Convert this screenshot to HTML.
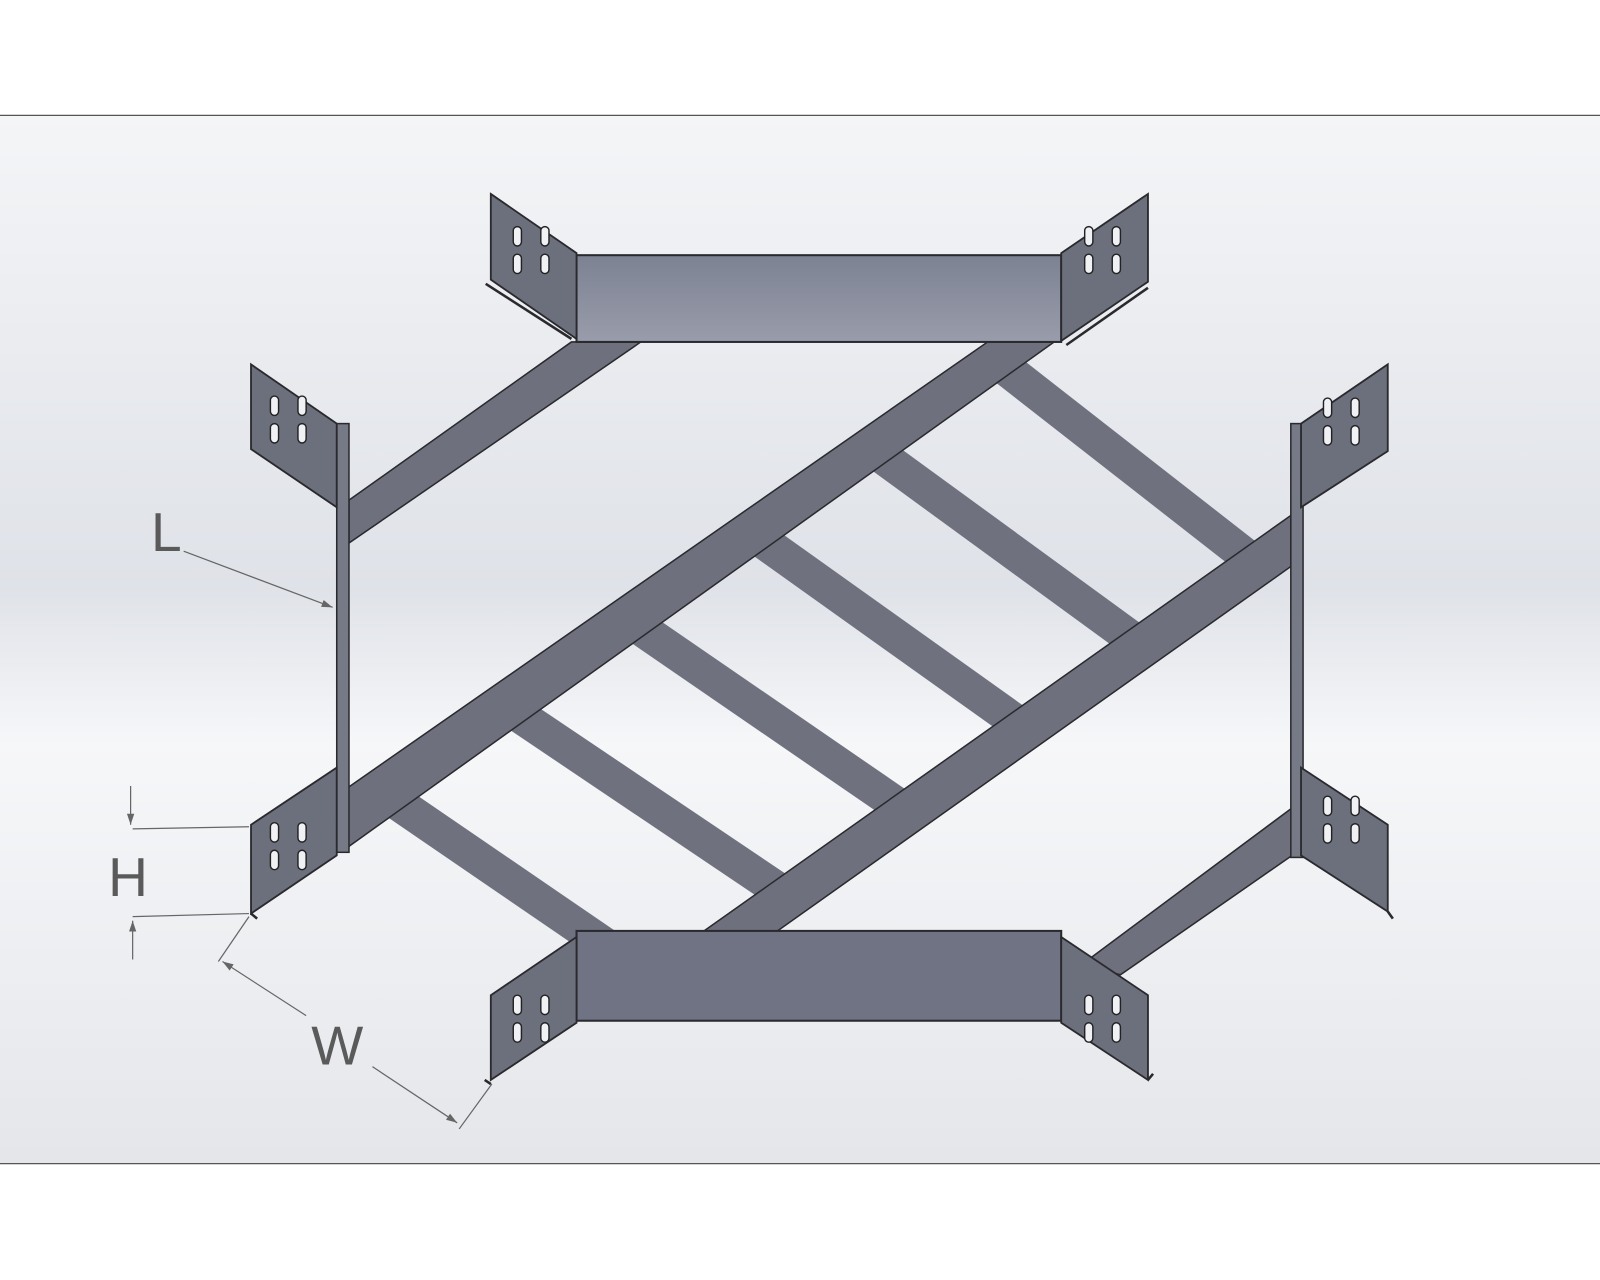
<!DOCTYPE html>
<html><head><style>html,body{margin:0;padding:0;background:#fff}svg{display:block}</style></head>
<body>
<svg width="1600" height="1280" viewBox="0 0 1568 1254" preserveAspectRatio="none" xmlns="http://www.w3.org/2000/svg">
<defs>
<linearGradient id="bg" x1="0" y1="0" x2="0" y2="1">
<stop offset="0" stop-color="#f4f5f7"/><stop offset="0.45" stop-color="#dfe2e8"/><stop offset="0.6" stop-color="#f6f7f9"/><stop offset="1" stop-color="#e4e6ea"/></linearGradient>
<linearGradient id="ch" x1="0" y1="0" x2="0" y2="1"><stop offset="0" stop-color="#7d8292"/><stop offset="1" stop-color="#989cab"/></linearGradient>
<marker id="ar" markerWidth="10" markerHeight="8" refX="9" refY="4" orient="auto"><path d="M0,1 L9,4 L0,7z" fill="#666"/></marker>
<clipPath id="strip"><polygon points="1007,331 1547,331 700,930 158,930"/></clipPath>
<g id="holes" fill="#f0f1f4" stroke="#222" stroke-width="1.4">
<rect x="0" y="0" width="8" height="19" rx="4"/><rect x="0" y="27" width="8" height="19" rx="4"/>
<rect x="27" y="0" width="8" height="19" rx="4"/><rect x="27" y="27" width="8" height="19" rx="4"/>
</g>
</defs>
<rect x="0" y="0" width="1568" height="1254" fill="#fff"/>
<rect x="0" y="113" width="1568" height="1027" fill="url(#bg)"/>
<line x1="0" y1="113" x2="1568" y2="113" stroke="#555" stroke-width="1.2"/>
<line x1="0" y1="1140" x2="1568" y2="1140" stroke="#555" stroke-width="1.2"/>

<!-- rungs -->
<g stroke="#6f727e" stroke-width="34" stroke-linecap="butt" clip-path="url(#strip)">
<line x1="950" y1="333" x2="1260" y2="575"/>
<line x1="830" y1="422" x2="1140" y2="648"/>
<line x1="715" y1="507" x2="1025" y2="728"/>
<line x1="595" y1="593" x2="905" y2="806"/>
<line x1="475" y1="678" x2="790" y2="890"/>
<line x1="355" y1="763" x2="640" y2="958"/>
</g>
<!-- diagonal rails -->
<g fill="#6e717d" stroke="#2a2a2e" stroke-width="1.5">
<polygon points="342,490 560,335 628,335 342,532"/>
<polygon points="336,775 975,330 1040,330 338,832"/>
<polygon points="690,912 1265,505 1265,555 762,912"/>
<polygon points="1060,945 1275,785 1275,832 1098,955"/>
</g>
<!-- vertical rails -->
<g fill="#767a86" stroke="#2a2a2e" stroke-width="1.5">
<rect x="330" y="415" width="12" height="420"/>
<rect x="1265" y="415" width="12" height="425"/>
</g>
<!-- channels -->
<rect x="565" y="250" width="475" height="85" fill="url(#ch)" stroke="#2a2a2e" stroke-width="2"/>
<rect x="565" y="912" width="475" height="88" fill="#6f7383" stroke="#2a2a2e" stroke-width="2"/>
<!-- plates -->
<g fill="#6c707c" stroke="#2a2a2e" stroke-width="1.8">
<polygon points="481,190 565,248 565,332 481,274"/>
<polygon points="1040,248 1125,190 1125,276 1040,334"/>
<polygon points="246,357 330,415 330,497 246,440"/>
<polygon points="246,808 330,752 330,838 246,895"/>
<polygon points="1275,415 1360,357 1360,442 1275,497"/>
<polygon points="1275,752 1360,808 1360,893 1275,838"/>
<polygon points="481,975 565,918 565,1002 481,1058"/>
<polygon points="1040,918 1125,975 1125,1058 1040,1002"/>
</g>
<!-- flanges -->
<g stroke="#2a2a2e" stroke-width="2.5" fill="none">
<line x1="476" y1="278" x2="560" y2="332"/>
<line x1="1045" y1="338" x2="1125" y2="282"/>
<line x1="1360" y1="893" x2="1365" y2="900"/>
<line x1="475" y1="1058" x2="481" y2="1062"/>
<line x1="1125" y1="1058" x2="1130" y2="1052"/>
<line x1="246" y1="895" x2="252" y2="900"/>
</g>
<!-- holes -->
<use href="#holes" x="503" y="222"/>
<use href="#holes" x="1063" y="222"/>
<use href="#holes" x="265" y="388"/>
<use href="#holes" x="265" y="806"/>
<use href="#holes" x="1297" y="390"/>
<use href="#holes" x="1297" y="780"/>
<use href="#holes" x="503" y="975"/>
<use href="#holes" x="1063" y="975"/>
<!-- dimensions -->
<g stroke="#666" stroke-width="1.2" fill="none">
<line x1="180" y1="540" x2="326" y2="595" marker-end="url(#ar)"/>
<line x1="130" y1="812" x2="244" y2="810"/>
<line x1="130" y1="898" x2="244" y2="895"/>
<line x1="128" y1="770" x2="128" y2="808" marker-end="url(#ar)"/>
<line x1="130" y1="940" x2="130" y2="902" marker-end="url(#ar)"/>
<line x1="244" y1="898" x2="214" y2="942"/>
<line x1="482" y1="1062" x2="450" y2="1106"/>
<line x1="300" y1="995" x2="218" y2="942" marker-end="url(#ar)"/>
<line x1="365" y1="1045" x2="448" y2="1100" marker-end="url(#ar)"/>
</g>
<g font-family="Liberation Sans, sans-serif" font-size="54" fill="#5a5a5a">
<text x="148" y="540">L</text>
<text x="106" y="878">H</text>
<text x="305" y="1043">W</text>
</g>
</svg>
</body></html>
